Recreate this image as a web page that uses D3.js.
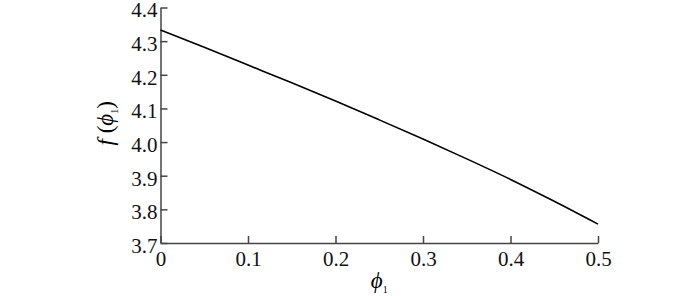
<!DOCTYPE html>
<html>
<head>
<meta charset="utf-8">
<script src="https://cdn.jsdelivr.net/npm/d3@7"></script>
<style>
  body { margin: 0; background: #fff; }
  .axis path, .axis line { stroke: #444; stroke-width: 1.5px; }
  .axis text { fill: #111; }
</style>
</head>
<body>
<div class="canvas"></div>
<script>
const phi = [0, 0.05, 0.1, 0.15, 0.2, 0.25, 0.3, 0.35, 0.4, 0.45, 0.5];
const fPhi = [4.333, 4.282, 4.229, 4.176, 4.122, 4.066, 4.009, 3.95, 3.889, 3.824, 3.756];
const xTicks = [0, 0.1, 0.2, 0.3, 0.4, 0.5];
const yTicks = [3.7, 3.8, 3.9, 4.0, 4.1, 4.2, 4.3, 4.4];

const FONT = "'Liberation Serif', 'Times New Roman', serif";
const W = 700, H = 296;
const margin = { top: 7.5, right: 102, bottom: 53, left: 160.5 };
const width = W - margin.left - margin.right;
const height = H - margin.top - margin.bottom;

const svg = d3.select(".canvas").append("svg")
  .attr("width", W).attr("height", H);

const chart = svg.append("g")
  .attr("transform", `translate(${margin.left}, ${margin.top})`);

const x = d3.scaleLinear().domain([0, 0.5]).range([0, width]);
const y = d3.scaleLinear().domain([3.7, 4.4]).range([height, 0]);

const xAxis = d3.axisBottom(x).tickValues(xTicks).tickSize(-7).tickSizeOuter(0)
  .tickPadding(8).tickFormat(d => d === 0 ? "0" : d3.format(".1f")(d));
const yAxis = d3.axisLeft(y).tickValues(yTicks).tickSize(-7).tickSizeOuter(0)
  .tickPadding(3).tickFormat(d3.format(".1f"));

const gx = chart.append("g").attr("class", "axis")
  .attr("transform", `translate(0, ${height})`).call(xAxis)
  .attr("font-family", FONT).attr("font-size", 21);
const gy = chart.append("g").attr("class", "axis").call(yAxis)
  .attr("font-family", FONT).attr("font-size", 21);

gx.selectAll(".tick text").attr("dy", "0.72em");
gy.selectAll(".tick text").attr("dy", "0.45em");

const line = d3.line().x((d, i) => x(phi[i])).y(d => y(d)).curve(d3.curveMonotoneX);
chart.append("path").datum(fPhi)
  .attr("d", line)
  .attr("fill", "none")
  .attr("stroke", "#000")
  .attr("stroke-width", 1.6);

// axis titles
const xt = svg.append("text")
  .attr("x", margin.left + width / 2)
  .attr("y", 288)
  .attr("text-anchor", "middle")
  .attr("font-family", FONT)
  .attr("font-size", 23);
xt.append("tspan").attr("font-style", "italic").text("\u03D5");
xt.append("tspan").attr("dy", 5).attr("font-size", 10).text("1");

const yt = svg.append("text")
  .attr("transform", `translate(113, ${margin.top + height / 2 - 2}) rotate(-90)`)
  .attr("text-anchor", "middle")
  .attr("font-family", FONT)
  .attr("font-size", 23);
yt.append("tspan").attr("font-style", "italic").text("f");
yt.append("tspan").text(" (");
yt.append("tspan").attr("font-style", "italic").text("\u03D5");
yt.append("tspan").attr("dy", 5).attr("font-size", 10).text("1");
yt.append("tspan").attr("dy", -5).text(")");
</script>
</body>
</html>
